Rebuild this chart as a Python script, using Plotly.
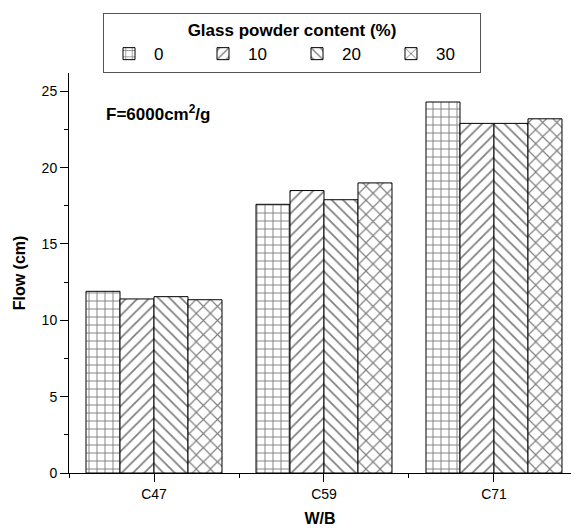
import plotly.graph_objects as go

categories = ["C47", "C59", "C71"]
series_names = ["0", "10", "20", "30"]
flow_0 = [11.9, 17.6, 24.3]
flow_10 = [11.4, 18.5, 22.9]
flow_20 = [11.55, 17.9, 22.9]
flow_30 = [11.35, 19.0, 23.2]
patterns = ["+", "/", "\\", "x"]
pattern_sizes = [8, 8, 8, 10]

FONT = "Arial, Liberation Sans, sans-serif"
xpos = list(range(len(categories)))

fig = go.Figure()
for name, vals, pat, psz in zip(series_names, [flow_0, flow_10, flow_20, flow_30], patterns, pattern_sizes):
    fig.add_trace(go.Bar(
        x=xpos, y=vals, name=name,
        marker=dict(color="white", line=dict(color="black", width=1),
                    pattern=dict(shape=pat, fgcolor="black", bgcolor="white",
                                 size=psz, solidity=0.22, fillmode="overlay")),
    ))

fig.update_layout(
    width=571, height=530,
    margin=dict(l=69, r=0, t=63, b=57),
    paper_bgcolor="white", plot_bgcolor="white",
    barmode="group", bargap=0.2, bargroupgap=0,
    font=dict(family=FONT, size=14, color="black"),
    showlegend=True,
    legend=dict(
        orientation="h", xref="container", yref="container",
        x=103/571, y=1-13/530, xanchor="left", yanchor="top",
        bordercolor="#555", borderwidth=1, bgcolor="white",
        font=dict(size=17),
        title=dict(text="<b>Glass powder content (%)</b>", side="top center", font=dict(size=17)),
        entrywidth=39, itemwidth=40,
    ),
    xaxis=dict(
        range=[-0.5, 2.453], tickmode="array", tickvals=xpos, ticktext=categories,
        showline=True, linecolor="black", linewidth=1, showgrid=False, zeroline=False,
        ticks="outside", ticklen=8, tickcolor="black",
        minor=dict(dtick=0.5, tick0=0, ticks="outside", ticklen=4, tickcolor="black", showgrid=False),
        title=dict(text="<b>W/B</b>", font=dict(size=16), standoff=12),
    ),
    yaxis=dict(
        range=[0, 26.2], tickmode="linear", tick0=0, dtick=5,
        showline=True, linecolor="black", linewidth=1, showgrid=False, zeroline=False,
        ticks="outside", ticklen=8, tickcolor="black",
        minor=dict(dtick=2.5, ticks="outside", ticklen=4, tickcolor="black", showgrid=False),
        title=dict(text="<b>Flow (cm)</b>", font=dict(size=16), standoff=12),
    ),
    annotations=[dict(
        text="<b>F=6000cm<sup>2</sup>/g</b>", xref="paper", yref="paper",
        x=(104-69)/502, y=(530-57-104)/410, xanchor="left", yanchor="middle",
        showarrow=False, font=dict(size=17),
    )],
)

fig.write_html("out.html")
